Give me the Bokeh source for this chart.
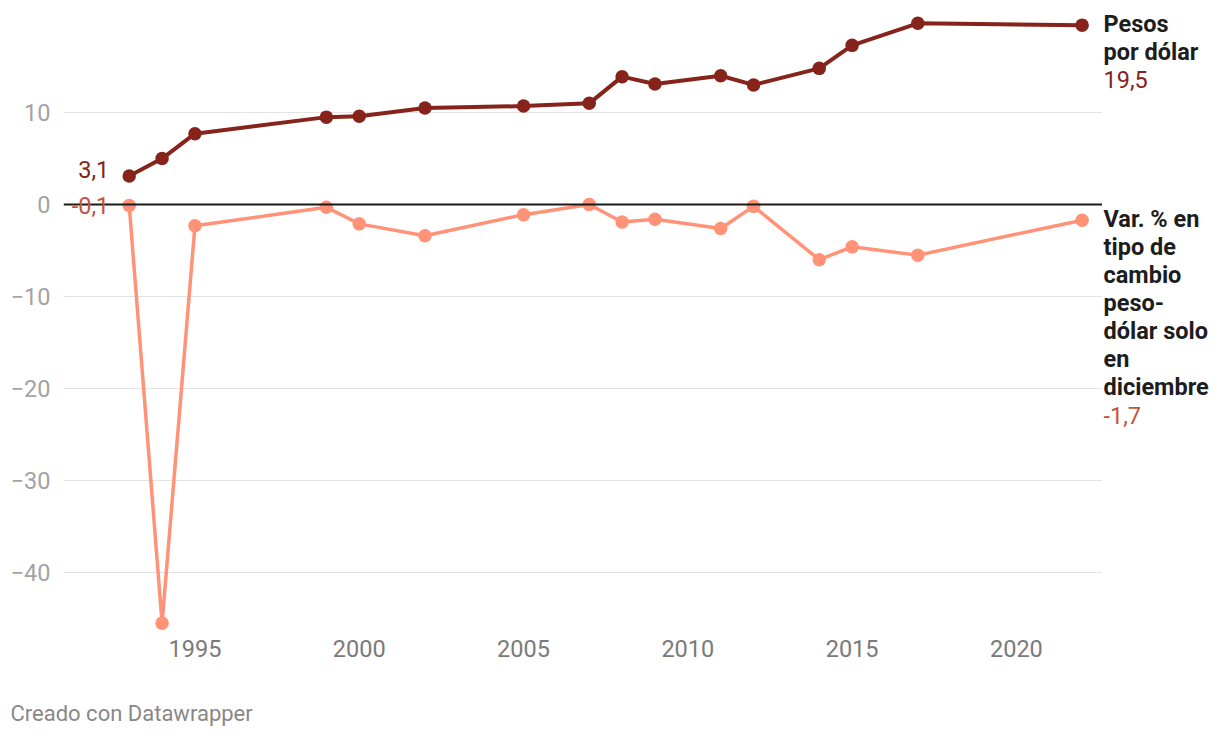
from bokeh.plotting import figure
from bokeh.models import Range1d, FixedTicker, Span, Label
from bokeh.layouts import row, column
from bokeh.embed import file_html
from bokeh.resources import INLINE

years = [1993, 1994, 1995, 1999, 2000, 2002, 2005, 2007, 2008, 2009, 2011, 2012, 2014, 2015, 2017, 2022]
pesos_por_dolar = [3.1, 5.0, 7.7, 9.5, 9.6, 10.5, 10.7, 11.0, 13.9, 13.1, 14.0, 13.0, 14.8, 17.3, 19.7, 19.5]
var_pct = [-0.1, -45.5, -2.3, -0.3, -2.1, -3.4, -1.1, 0.0, -1.9, -1.6, -2.6, -0.2, -6.0, -4.6, -5.5, -1.7]
x_ticks = [1995, 2000, 2005, 2010, 2015, 2020]
y_ticks = [-40, -30, -20, -10, 0, 10]
label_pesos = ["Pesos", "por dólar"]
label_var = ["Var. % en", "tipo de", "cambio", "peso-", "dólar solo", "en", "diciembre"]
footer = "Creado con Datawrapper"

DARK = "#86231a"
LIGHT = "#ff9277"
LIGHT_TXT = "#c4533a"
FONT = "Roboto"
FS = 23.5
CORR = 0.43 * FS  # baseline correction for Label "alphabetic"

yr = Range1d(-46.3, 21.09)

# ---------------- main chart ----------------
p = figure(width=1102, height=666, output_backend="svg", toolbar_location=None,
           x_range=Range1d(1991.0, 2022.62), y_range=yr,
           min_border_left=63, min_border_right=0, min_border_top=10, min_border_bottom=36)
p.outline_line_color = None

p.xaxis.ticker = FixedTicker(ticks=x_ticks)
p.yaxis.ticker = FixedTicker(ticks=y_ticks)
p.yaxis.major_label_overrides = {t: (("\u2212" + str(-t)) if t < 0 else str(t)) for t in y_ticks}
for ax in (p.xaxis[0], p.yaxis[0]):
    ax.axis_line_color = None
    ax.major_tick_line_color = None
    ax.minor_tick_line_color = None
    ax.major_tick_out = 0
    ax.major_tick_in = 0
    ax.major_label_text_font = FONT
    ax.major_label_text_font_size = f"{FS}px"
p.xaxis.major_label_text_color = "#7a7a7a"
p.yaxis.major_label_text_color = "#a3a3a3"
p.xaxis.major_label_standoff = 9
p.yaxis.major_label_standoff = 13

p.xgrid.grid_line_color = None
p.ygrid.ticker = FixedTicker(ticks=[t for t in y_ticks if t != 0])
p.ygrid.grid_line_color = "#e3e3e3"
p.ygrid.grid_line_width = 1

p.add_layout(Span(location=0, dimension="width", line_color="#1a1a1a", line_width=2))

p.line(years, var_pct, line_color=LIGHT, line_width=3.5)
p.scatter(years, var_pct, size=13.5, fill_color=LIGHT, line_color=None)
p.line(years, pesos_por_dolar, line_color=DARK, line_width=4)
p.scatter(years, pesos_por_dolar, size=13.5, fill_color=DARK, line_color=None)

def fmt(v):
    return f"{v:.1f}".replace(".", ",")

p.add_layout(Label(x=years[0], y=pesos_por_dolar[0], text=fmt(pesos_por_dolar[0]),
                   x_offset=-20, y_offset=CORR - 4, text_align="right", text_baseline="alphabetic",
                   text_font=FONT, text_font_size=f"{FS}px", text_color=DARK))
p.add_layout(Label(x=years[0], y=var_pct[0], text=fmt(var_pct[0]),
                   x_offset=-20, y_offset=CORR - 10, text_align="right", text_baseline="alphabetic",
                   text_font=FONT, text_font_size=f"{FS}px", text_color=LIGHT_TXT))

# ---------------- right-side series labels ----------------
r = figure(width=118, height=666, output_backend="svg", toolbar_location=None,
           x_range=Range1d(0, 118), y_range=yr, x_axis_type=None, y_axis_type=None,
           min_border_left=0, min_border_right=0, min_border_top=10, min_border_bottom=36)
r.outline_line_color = None
r.grid.visible = False

LH = 28
def end_labels(lines, yv, color, base):
    for i, ln in enumerate(lines):
        r.add_layout(Label(x=0, y=yv, text=ln, x_offset=1, y_offset=CORR - base - i * LH,
                           text_align="left", text_baseline="alphabetic", text_font=FONT,
                           text_font_size=f"{FS}px", text_font_style="bold", text_color="#1d1d1d"))
    r.add_layout(Label(x=0, y=yv, text=fmt(yv), x_offset=1,
                       y_offset=CORR - base - len(lines) * LH, text_align="left",
                       text_baseline="alphabetic", text_font=FONT, text_font_size=f"{FS}px",
                       text_color=color))

end_labels(label_pesos, pesos_por_dolar[-1], DARK, 8.5)
end_labels(label_var, var_pct[-1], LIGHT_TXT, 9.3)

# ---------------- footer ----------------
f = figure(width=1220, height=72, output_backend="svg", toolbar_location=None,
           x_range=Range1d(0, 1220), y_range=Range1d(0, 72), x_axis_type=None, y_axis_type=None,
           min_border_left=0, min_border_right=0, min_border_top=0, min_border_bottom=0)
f.outline_line_color = None
f.grid.visible = False
f.add_layout(Label(x=10, y=16, text=footer, y_offset=0.43 * 22, text_align="left",
                   text_baseline="alphabetic", text_font=FONT, text_font_size="22px",
                   text_color="#888888"))

layout = column(row(p, r), f)
open("out.html", "w").write(file_html(layout, INLINE))
